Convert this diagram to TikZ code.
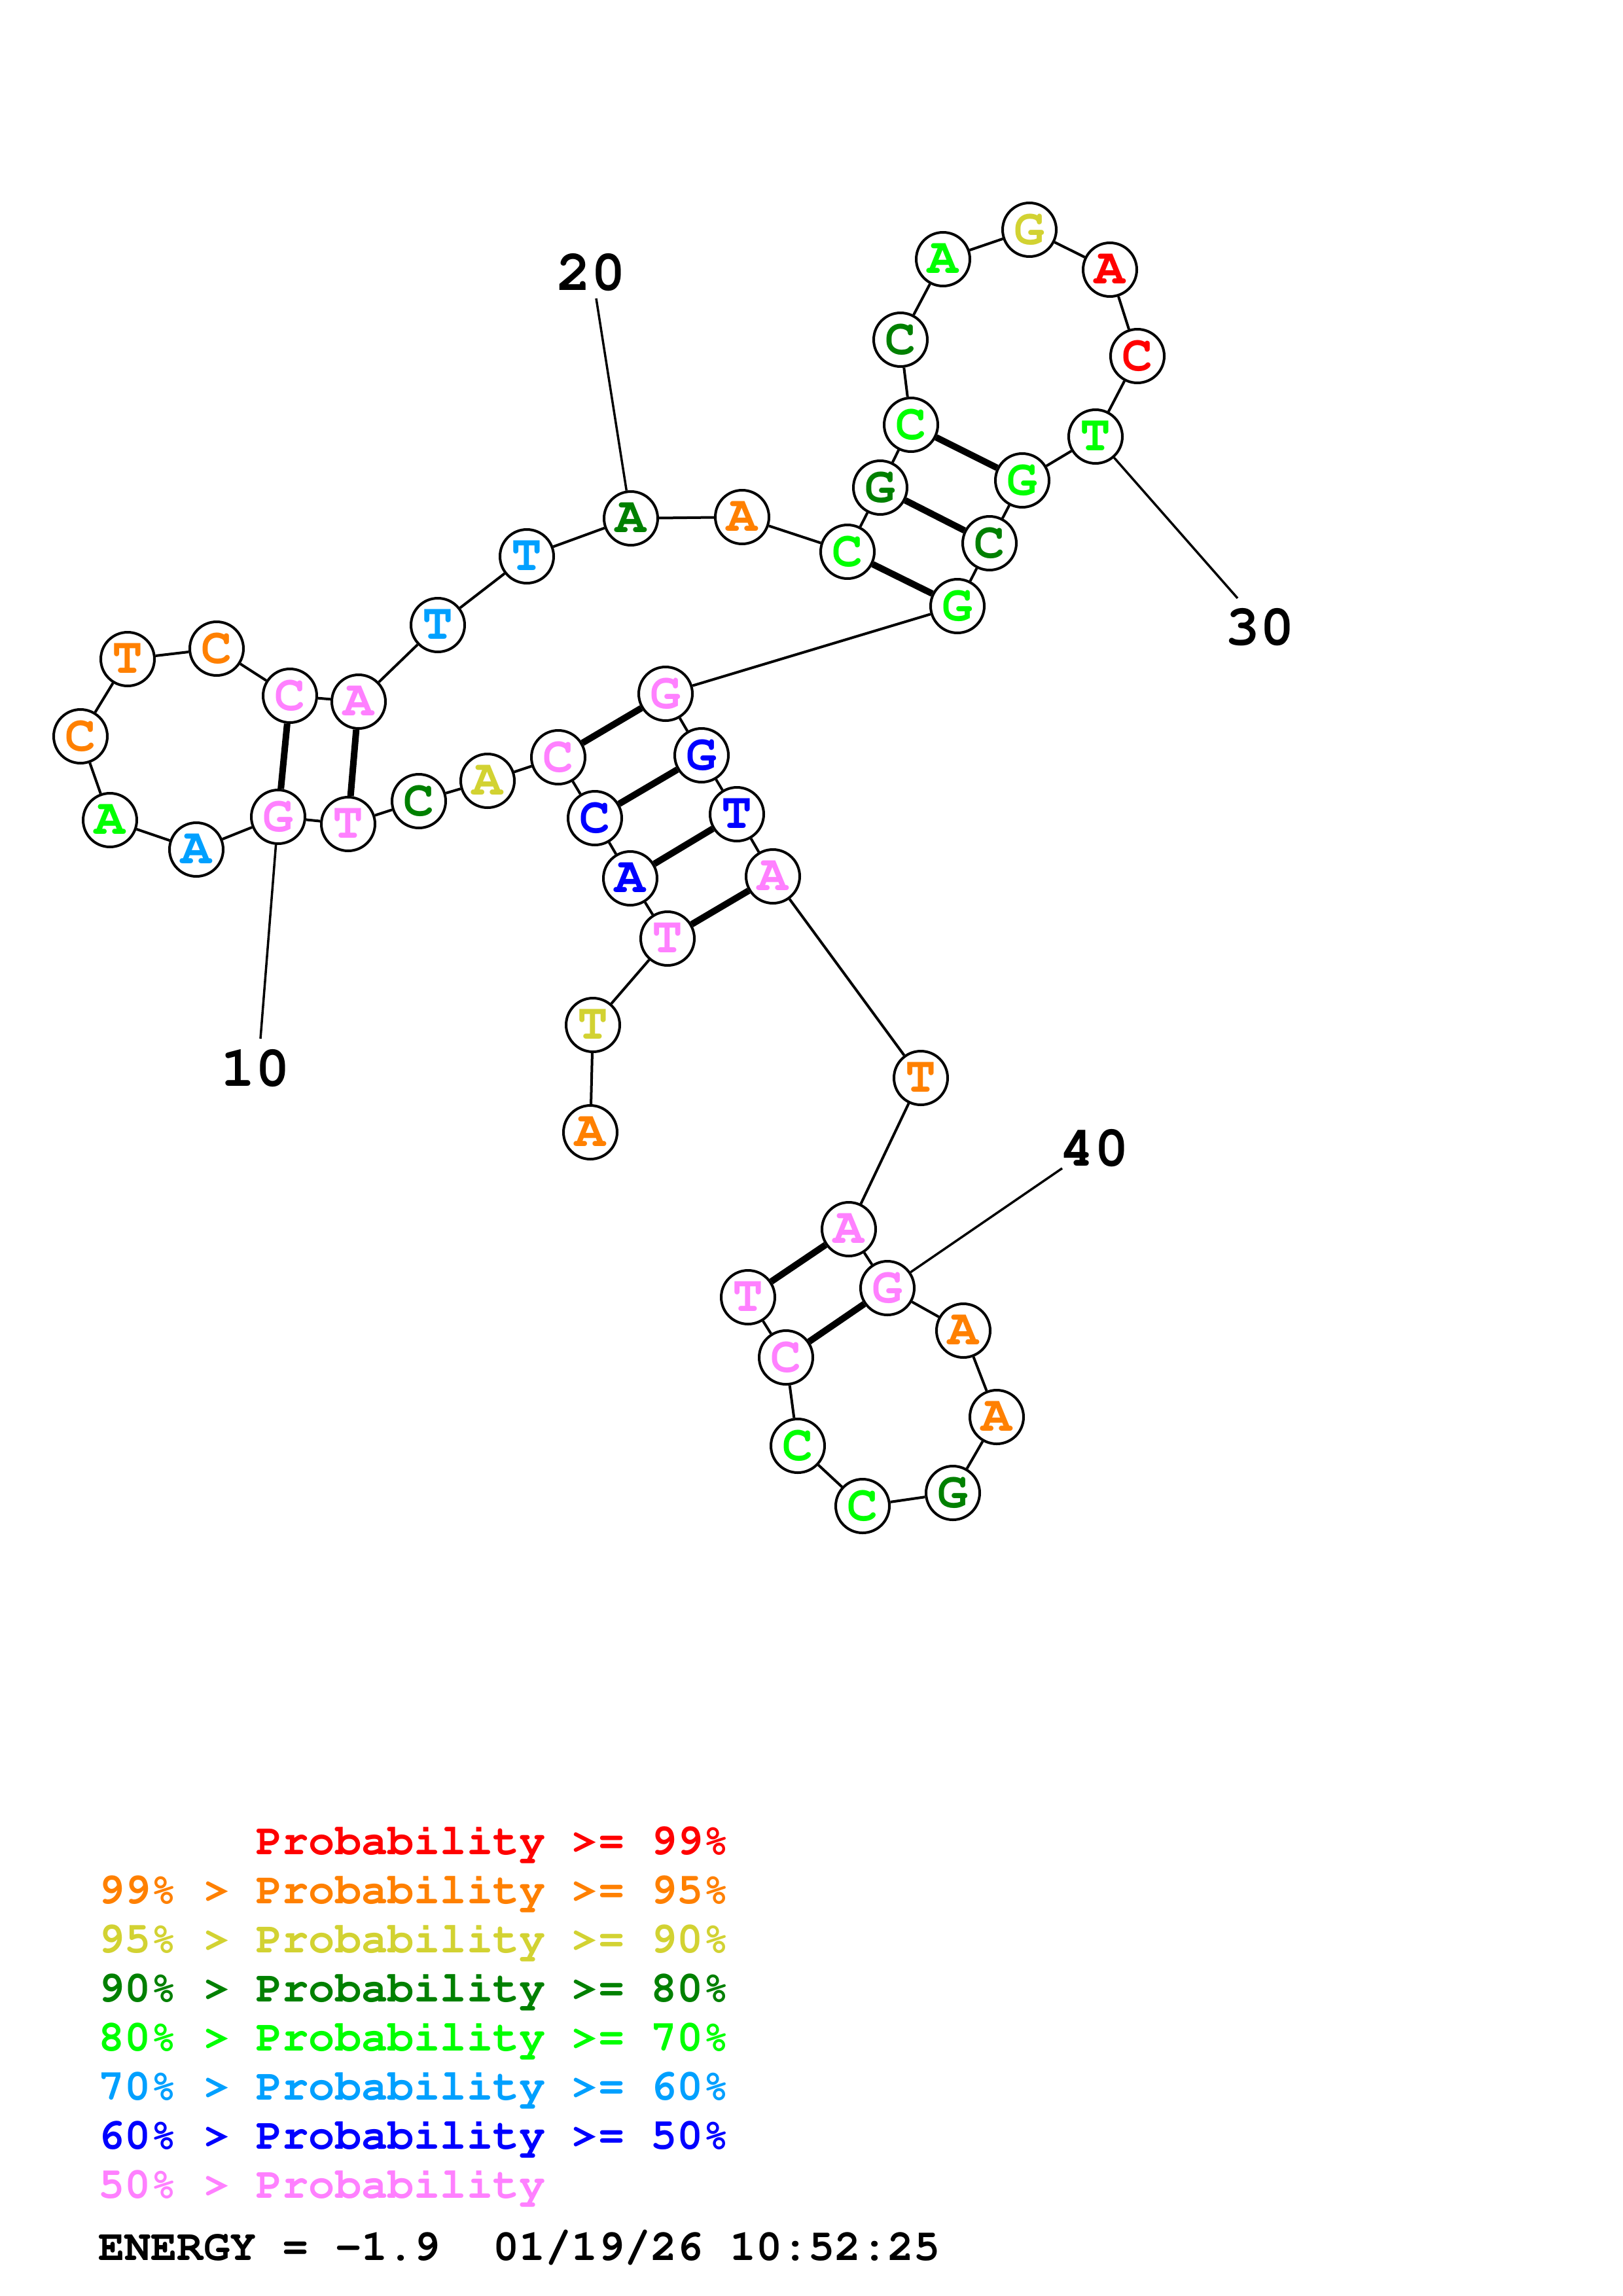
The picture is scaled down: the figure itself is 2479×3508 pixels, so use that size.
\documentclass[tikz,border=0pt]{standalone}
\usepackage[T1,TU]{fontenc}
\newcommand\courb{\fontencoding{T1}\fontfamily{pcr}\fontseries{b}\fontshape{n}\selectfont}
\definecolor{cRed}{RGB}{255,0,0}
\definecolor{cOrange}{RGB}{255,128,0}
\definecolor{cYellow}{RGB}{210,210,50}
\definecolor{cDkGreen}{RGB}{0,128,0}
\definecolor{cGreen}{RGB}{0,255,0}
\definecolor{cCyan}{RGB}{0,160,255}
\definecolor{cBlue}{RGB}{0,0,255}
\definecolor{cPink}{RGB}{255,128,255}
\tikzset{
  nt/.style={circle,draw=black,line width=4pt,fill=white,minimum size=82pt,inner sep=0pt,
    font=\courb\fontsize{78}{78}\selectfont},
  bb/.style={line width=4pt,black},
  bp/.style={line width=10pt,black},
  lead/.style={line width=3.5pt,black},
  numlbl/.style={inner sep=0pt,anchor=center,font=\courb\fontsize{88}{88}\selectfont},
  leg/.style={inner sep=0pt,anchor=base west,font=\courb\fontsize{67}{67}\selectfont},
}
\begin{document}
\begin{tikzpicture}[x=1pt,y=-1pt]
\useasboundingbox[fill=white] (0,0) rectangle (2479,3508);
% nucleotides
\node[nt,text=cOrange]  (n1)  at (902,1730) {A};
\node[nt,text=cYellow]  (n2)  at (906,1566) {T};
\node[nt,text=cPink]    (n3)  at (1020,1434) {T};
\node[nt,text=cBlue]    (n4)  at (963,1342) {A};
\node[nt,text=cBlue]    (n5)  at (909,1250) {C};
\node[nt,text=cPink]    (n6)  at (853,1157) {C};
\node[nt,text=cYellow]  (n7)  at (745,1193) {A};
\node[nt,text=cDkGreen] (n8)  at (640,1224) {C};
\node[nt,text=cPink]    (n9)  at (532,1259) {T};
\node[nt,text=cPink]    (n10) at (425,1248) {G};
\node[nt,text=cCyan]    (n11) at (300,1298) {A};
\node[nt,text=cGreen]   (n12) at (168,1253) {A};
\node[nt,text=cOrange]  (n13) at (123,1125) {C};
\node[nt,text=cOrange]  (n14) at (195,1007) {T};
\node[nt,text=cOrange]  (n15) at (331,991) {C};
\node[nt,text=cPink]    (n16) at (443,1063) {C};
\node[nt,text=cPink]    (n17) at (548,1072) {A};
\node[nt,text=cCyan]    (n18) at (669,955) {T};
\node[nt,text=cCyan]    (n19) at (805,850) {T};
\node[nt,text=cDkGreen] (n20) at (964,792) {A};
\node[nt,text=cOrange]  (n21) at (1134,790) {A};
\node[nt,text=cGreen]   (n22) at (1295,843) {C};
\node[nt,text=cDkGreen] (n23) at (1345,745) {G};
\node[nt,text=cGreen]   (n24) at (1392,649) {C};
\node[nt,text=cDkGreen] (n25) at (1376,519) {C};
\node[nt,text=cGreen]   (n26) at (1441,396) {A};
\node[nt,text=cYellow]  (n27) at (1573,351) {G};
\node[nt,text=cRed]     (n28) at (1696,412) {A};
\node[nt,text=cRed]     (n29) at (1738,544) {C};
\node[nt,text=cGreen]   (n30) at (1674,667) {T};
\node[nt,text=cGreen]   (n31) at (1562,734) {G};
\node[nt,text=cDkGreen] (n32) at (1512,830) {C};
\node[nt,text=cGreen]   (n33) at (1463,926) {G};
\node[nt,text=cPink]    (n34) at (1017,1060) {G};
\node[nt,text=cBlue]    (n35) at (1072,1154) {G};
\node[nt,text=cBlue]    (n36) at (1126,1244) {T};
\node[nt,text=cPink]    (n37) at (1181,1339) {A};
\node[nt,text=cOrange]  (n38) at (1407,1647) {T};
\node[nt,text=cPink]    (n39) at (1297,1878) {A};
\node[nt,text=cPink]    (n40) at (1356,1968) {G};
\node[nt,text=cOrange]  (n41) at (1472,2033) {A};
\node[nt,text=cOrange]  (n42) at (1523,2165) {A};
\node[nt,text=cDkGreen] (n43) at (1456,2281) {G};
\node[nt,text=cGreen]   (n44) at (1318,2301) {C};
\node[nt,text=cGreen]   (n45) at (1219,2209) {C};
\node[nt,text=cPink]    (n46) at (1201,2074) {C};
\node[nt,text=cPink]    (n47) at (1143,1982) {T};
% backbone
\foreach \i [evaluate=\i as \j using int(\i+1)] in {1,...,46}
  \draw[bb] (n\i) -- (n\j);
% base pairs
\draw[bp] (n16) -- (n10);
\draw[bp] (n17) -- (n9);
\draw[bp] (n24) -- (n31);
\draw[bp] (n23) -- (n32);
\draw[bp] (n22) -- (n33);
\draw[bp] (n6) -- (n34);
\draw[bp] (n5) -- (n35);
\draw[bp] (n4) -- (n36);
\draw[bp] (n3) -- (n37);
\draw[bp] (n39) -- (n47);
\draw[bp] (n40) -- (n46);
% position labels
\coordinate (e10) at (398,1587);
\coordinate (e20) at (911,456);
\coordinate (e30) at (1891,914);
\coordinate (e40) at (1623,1785);
\draw[lead] (n10) -- (e10);
\draw[lead] (n20) -- (e20);
\draw[lead] (n30) -- (e30);
\draw[lead] (n40) -- (e40);
\node[numlbl] (t10) at (390,1633) {10};
\node[numlbl] (t20) at (903,417) {20};
\node[numlbl] (t30) at (1925,959) {30};
\node[numlbl] (t40) at (1672,1755) {40};
% legend
\node[leg,text=cRed]     (g1) at (391.2,2833) {Probability >= 99\%};
\node[leg,text=cOrange]  (g2) at (150,2908) {99\% > Probability >= 95\%};
\node[leg,text=cYellow]  (g3) at (150,2983) {95\% > Probability >= 90\%};
\node[leg,text=cDkGreen] (g4) at (150,3058) {90\% > Probability >= 80\%};
\node[leg,text=cGreen]   (g5) at (150,3133) {80\% > Probability >= 70\%};
\node[leg,text=cCyan]    (g6) at (150,3208) {70\% > Probability >= 60\%};
\node[leg,text=cBlue]    (g7) at (150,3283) {60\% > Probability >= 50\%};
\node[leg,text=cPink]    (g8) at (150,3358) {50\% > Probability};
\node[leg,text=black]    (g9) at (150,3453) {ENERGY = -1.9\ \ 01/19/26 10:52:25};
\end{tikzpicture}
\end{document}
